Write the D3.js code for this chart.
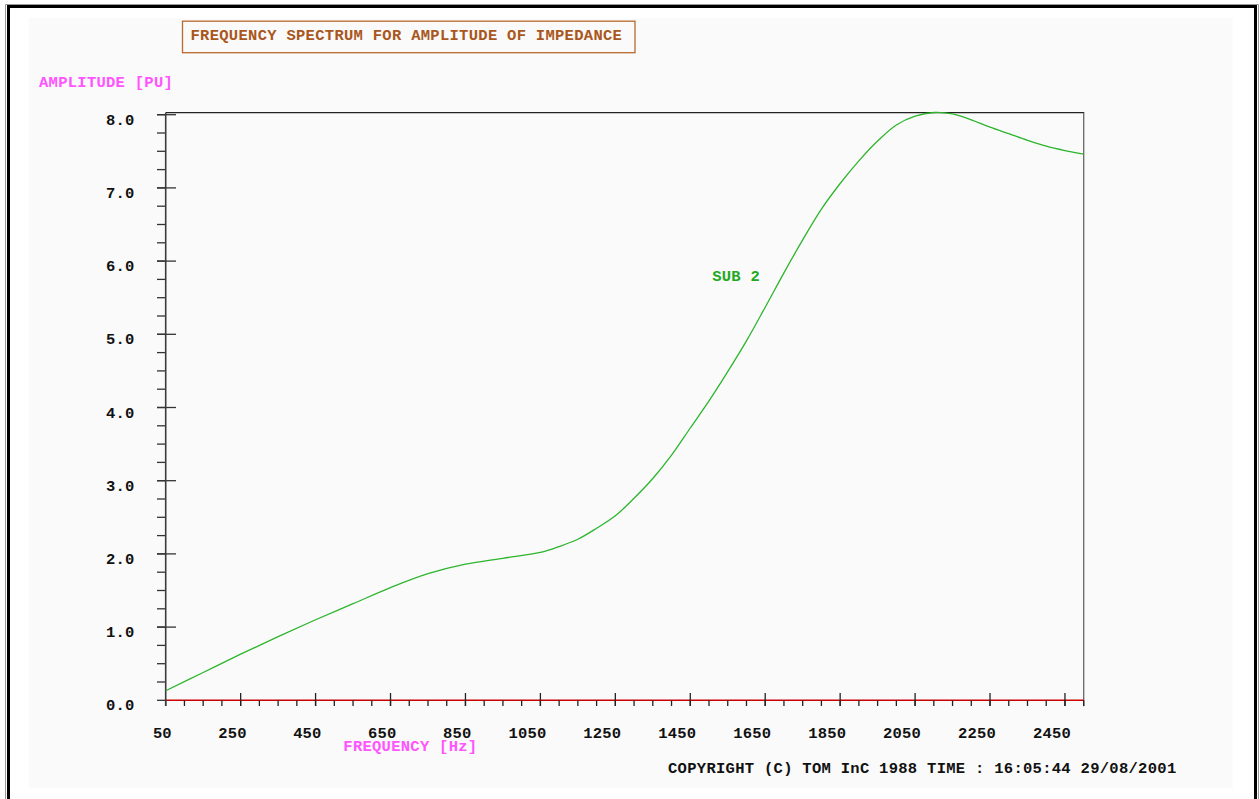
<!DOCTYPE html>
<html>
<head>
<meta charset="utf-8">
<script src="https://cdn.jsdelivr.net/npm/d3@7"></script>
<style>
html,body{margin:0;padding:0;background:#fff;}
svg{display:block;}
text{font-family:"Liberation Mono","DejaVu Sans Mono",monospace;font-weight:bold;font-size:15.5px;}
</style>
</head>
<body>
<svg id="chart" width="1260" height="799"></svg>
<script>
// ---- data ----
const frequencies = [50,150,250,350,450,550,650,750,850,950,1050,1100,1150,1200,1250,1300,1350,1400,1450,1500,1550,1600,1650,1700,1750,1800,1850,1900,1950,2000,2050,2100,2150,2200,2250,2300,2350,2400,2450,2500];
const amplitudes  = [0.13,0.38,0.63,0.87,1.10,1.32,1.54,1.73,1.86,1.94,2.02,2.10,2.20,2.35,2.52,2.76,3.03,3.35,3.72,4.09,4.49,4.91,5.37,5.84,6.29,6.71,7.06,7.37,7.64,7.86,7.98,8.03,8.01,7.93,7.83,7.74,7.65,7.57,7.51,7.46];
const xTickLabels = [50,250,450,650,850,1050,1250,1450,1650,1850,2050,2250,2450];
const yTickLabels = [0,1,2,3,4,5,6,7,8];
const seriesName = "SUB 2";
const titleText = "FREQUENCY SPECTRUM FOR AMPLITUDE OF IMPEDANCE";
const yAxisTitle = "AMPLITUDE [PU]";
const xAxisTitle = "FREQUENCY [Hz]";
const footerText = "COPYRIGHT (C) TOM InC 1988 TIME : 16:05:44 29/08/2001";

// ---- layout ----
const svg = d3.select("#chart");
const L = 165.7, R = 1083.7, T = 112.7, B = 700.3;
const x = d3.scaleLinear().domain([50, 2500]).range([L, R]);
const y = d3.scaleLinear().domain([0, 8]).range([B, 114.7]);
const ADV = 9.6;

// page frame
svg.append("rect").attr("x",28.6).attr("y",18.3).attr("width",1204).attr("height",770).attr("fill","#fafafa");
svg.append("path").attr("d","M5.5,799V4.5H1258.5V799").attr("fill","none").attr("stroke","#999").attr("stroke-width",1);
svg.append("path").attr("d","M8.5,799V6.5H1255.5V799").attr("fill","none").attr("stroke","#000").attr("stroke-width",3);

function fit(sel){
  sel.each(function(){
    const n = this.textContent.length;
    d3.select(this).attr("textLength", (n*ADV - 0.6).toFixed(2)).attr("lengthAdjust","spacing");
  });
  return sel;
}
function monoText(str, x0, yb, color){
  return fit(svg.append("text").attr("x",x0).attr("y",yb).attr("fill",color).text(str));
}

// title box
svg.append("rect").attr("x",182.5).attr("y",21.2).attr("width",452.5).attr("height",31.5)
  .attr("fill","none").attr("stroke","#b8692c").attr("stroke-width",1.3);
monoText(titleText, 190.5, 39.8, "#a9571c");

// axis titles
monoText(yAxisTitle, 39, 86.5, "#ff55ff");
monoText(xAxisTitle, 343.3, 750.5, "#ff55ff");
monoText(footerText, 668, 772.5, "#111");

// plot frame: top (black), right (gray)
svg.append("line").attr("x1",L).attr("x2",R+0.5).attr("y1",T).attr("y2",T).attr("stroke","#222").attr("stroke-width",1.3);
svg.append("line").attr("x1",R).attr("x2",R).attr("y1",T).attr("y2",B+6).attr("stroke","#666").attr("stroke-width",1.3);

// y minor / major ticks
const yMinor = d3.range(0, 8.001, 0.25);
svg.append("g").selectAll("line").data(yMinor).join("line")
  .attr("x1",157).attr("x2",L).attr("y1",d=>y(d)).attr("y2",d=>y(d))
  .attr("stroke","#333").attr("stroke-width",1.3);
svg.append("g").selectAll("line").data(yTickLabels.filter(d=>d>0)).join("line")
  .attr("x1",157).attr("x2",176).attr("y1",d=>y(d)).attr("y2",d=>y(d))
  .attr("stroke","#333").attr("stroke-width",1.3);
fit(svg.append("g").selectAll("text").data(yTickLabels).join("text")
  .attr("x",106).attr("y",d=>y(d)+10).attr("fill","#111")
  .text(d=>d3.format(".1f")(d)));

// zero line (red)
svg.append("line").attr("x1",L).attr("x2",R).attr("y1",B).attr("y2",B).attr("stroke","#cc0000").attr("stroke-width",1.5);

// x minor / major ticks
const xMinor = d3.range(50, 2500.1, 50);
svg.append("g").selectAll("line").data(xMinor).join("line")
  .attr("x1",d=>x(d)).attr("x2",d=>x(d)).attr("y1",B).attr("y2",706)
  .attr("stroke","#222").attr("stroke-width",1.3);
svg.append("g").selectAll("line").data(xTickLabels.filter(d=>d>50)).join("line")
  .attr("x1",d=>x(d)).attr("x2",d=>x(d)).attr("y1",693).attr("y2",706)
  .attr("stroke","#222").attr("stroke-width",1.3);
fit(svg.append("g").selectAll("text").data(xTickLabels).join("text")
  .attr("x",d=>x(d)+6.4-String(d).length*ADV).attr("y",737.5).attr("fill","#111")
  .text(d=>d));

// y axis line
svg.append("line").attr("x1",L).attr("x2",L).attr("y1",T).attr("y2",706).attr("stroke","#3a3a3a").attr("stroke-width",1.6);

// curve
const data = frequencies.map((f,i)=>({f, v:amplitudes[i]}));
const line = d3.line().x(d=>x(d.f)).y(d=>y(d.v)).curve(d3.curveCatmullRom.alpha(0.5));
svg.append("path").datum(data).attr("d",line).attr("fill","none")
  .attr("stroke","#2db52d").attr("stroke-width",1.3);

// series label
monoText(seriesName, 712.3, 281, "#22a822");
</script>
</body>
</html>
